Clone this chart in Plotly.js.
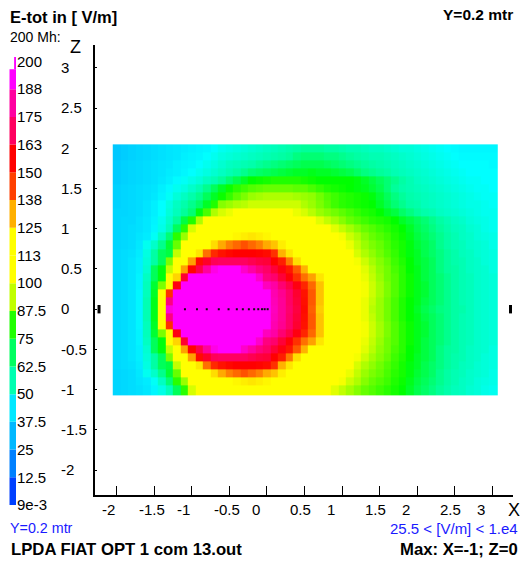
<!DOCTYPE html>
<html><head><meta charset="utf-8">
<script src="https://cdn.plot.ly/plotly-3.0.0.min.js"></script>
<style>html,body{margin:0;padding:0;background:#fff}#c{width:521px;height:561px}</style>
</head><body><div id="c"></div>
<script>
const xCells=[-2,-1.9,-1.8,-1.7,-1.6,-1.5,-1.4,-1.3,-1.2,-1.1,-1,-0.9,-0.8,-0.7,-0.6,-0.5,-0.4,-0.3,-0.2,-0.1,0,0.1,0.2,0.3,0.4,0.5,0.6,0.7,0.8,0.9,1,1.1,1.2,1.3,1.4,1.5,1.6,1.7,1.8,1.9,2,2.1,2.2,2.3,2.4,2.5,2.6,2.7,2.8,2.9,3];
const zCells=[-1,-0.9,-0.8,-0.7,-0.6,-0.5,-0.4,-0.3,-0.2,-0.1,0,0.1,0.2,0.3,0.4,0.5,0.6,0.7,0.8,0.9,1,1.1,1.2,1.3,1.4,1.5,1.6,1.7,1.8,1.9,2];
const r000=[40,41,43,48,60,73,100,195,200,200, 200,200,200,200,200,200,200,200,200,200, 200,190,184,177,171,160,144,131,124,120, 116,111,105,98,93,90,86,82,78,75, 72,69,67,65,64,62,61,59,57,56,55];
const r010=[40,41,43,48,60,73,102,180,200,200, 200,200,200,200,200,200,200,200,200,200, 200,189,184,176,170,159,145,132,125,120, 116,111,105,98,94,90,86,82,78,75, 73,70,68,66,64,62,60,59,57,56,55];
const r020=[40,41,43,48,59,72,102,150,200,200, 200,200,200,200,200,200,200,200,200,200, 200,188,183,176,169,158,145,132,125,120, 116,111,105,99,95,91,87,83,79,76, 73,71,68,66,64,62,60,59,57,56,55];
const r030=[40,41,43,47,59,71,87,106,165,200, 200,200,200,200,200,200,200,200,200,200, 190,186,178,172,165,153,143,132,124,120, 115,110,104,99,95,91,87,83,79,76, 73,71,68,66,64,62,60,59,57,56,55];
const r040=[40,41,43,47,58,68,74,104,130,169, 200,200,200,200,200,200,200,200,200,192, 180,177,170,164,150,142,136,128,122,118, 113,108,103,98,94,90,86,83,79,76, 73,70,68,66,64,62,60,59,57,56,55];
const r050=[40,41,43,46,56,68,74,94,108,136, 162,172,185,196,200,200,200,192,186,180, 176,170,165,157,145,134,125,120,117,114, 110,105,101,97,93,89,86,82,79,75, 73,70,68,65,63,62,60,58,57,56,54];
const r060=[40,41,43,46,55,62,68,87,100,112, 136,160,168,174,175,175,175,175,173,171, 170,163,155,141,129,122,119,116,113,110, 106,102,99,95,91,88,85,81,78,75, 72,70,68,65,63,61,60,58,57,55,54];
const r070=[40,41,42,45,54,62,68,70,94,105, 112,128,142,152,158,161,163,163,163,162, 160,150,134,128,123,120,117,115,112,108, 104,100,96,92,89,86,83,80,77,74, 72,69,67,65,63,61,59,58,56,55,54];
const r080=[39,40,41,44,52,57,64,71,85,100, 106,115,122,129,135,140,143,146,143,140, 135,132,127,122,119,117,115,112,108,105, 102,98,94,90,87,85,82,79,77,74, 71,69,67,64,62,60,59,57,56,55,53];
const r090=[39,40,41,43,45,51,58,66,79,90, 101,110,115,118,120,122,126,127,128,127, 126,122,120,119,117,115,113,110,106,102, 99,95,92,88,85,83,81,78,76,73, 70,68,66,64,62,60,58,57,55,54,53];
const r100=[39,40,41,42,44,48,53,59,68,79, 96,105,110,113,115,116,117,118,118,118, 118,117,116,115,114,112,110,106,101,97, 94,91,88,85,83,81,79,77,75,72, 69,67,65,63,61,59,58,56,55,53,52];
const r110=[39,40,40,42,44,47,52,57,63,70, 78,92,101,105,107,109,110,111,112,112, 112,112,111,110,109,106,102,97,94,91, 88,85,83,81,79,78,77,75,72,70, 68,66,64,62,60,58,57,55,54,53,52];
const r120=[39,39,40,41,43,46,50,55,59,63, 66,74,82,92,96,98,100,104,105,106, 106,106,105,101,98,96,93,90,88,86, 84,82,80,78,77,75,72,70,67,65, 63,61,60,58,57,56,55,54,53,52,52];
const r130=[38,39,40,41,43,46,50,54,58,61, 64,67,72,78,88,90,92,93,95,95, 95,95,95,95,95,92,90,87,84,81, 79,78,77,76,75,72,69,66,64,62, 61,59,58,57,56,55,54,53,53,52,51];
const r140=[38,39,40,41,42,44,47,51,55,58, 61,64,68,72,76,80,84,87,90,91, 92,92,92,92,91,90,89,86,83,81, 79,78,77,76,74,71,68,65,63,61, 60,59,58,57,56,55,54,53,52,51,51];
const r150=[38,39,40,41,42,43,46,49,52,54, 57,60,64,68,72,76,79,81,83,84, 85,85,85,85,84,84,82,80,78,77, 76,75,74,73,71,69,66,63,61,60, 59,58,57,56,55,54,53,52,51,51,50];
const r160=[37,38,39,40,41,42,44,46,49,51, 53,55,58,60,63,66,69,72,75,76, 77,78,78,78,78,77,76,75,75,75, 75,75,74,72,70,68,66,64,62,60, 58,57,56,55,54,53,52,51,51,50,50];
const r170=[37,38,39,40,41,42,43,45,46,48, 50,52,54,56,58,60,62,64,66,67, 68,69,70,71,72,72,73,72,72,71, 70,69,67,65,64,63,62,60,59,58, 57,56,55,54,53,52,51,50,50,50,50];
const r180=[37,38,39,40,41,42,43,44,46,47, 48,50,52,54,56,58,59,60,61,63, 64,65,66,67,68,69,69,69,68,67, 66,65,64,63,62,61,60,59,58,57, 56,55,54,53,52,51,50,50,50,50,49];
const r190=[36,37,38,39,40,41,42,43,44,46, 47,48,50,52,54,55,56,57,58,59, 60,61,62,63,65,66,66,66,65,65, 64,63,62,61,60,60,59,58,57,56, 55,54,53,52,51,50,49,49,49,49,49];
const r200=[36,37,38,39,40,41,42,43,44,45, 46,47,48,50,52,53,54,55,56,57, 58,59,60,61,62,63,63,63,62,62, 61,60,60,59,58,58,57,56,55,55, 54,53,52,51,50,49,48,48,48,48,48];
const fieldRows=[r100,r090,r080,r070,r060,r050,r040,r030,r020,r010,r000,r010,r020,r030,r040,r050,r060,r070,r080,r090,r100,r110,r120,r130,r140,r150,r160,r170,r180,r190,r200];
const xTicks=[-2,-1.5,-1,-0.5,0,0.5,1,1.5,2,2.5,3];
const xTickText=['-2','-1.5','-1','-0.5','0','0.5','1','1.5','2','2.5','3'];
const zTicks=[-2,-1.5,-1,-0.5,0,0.5,1,1.5,2,2.5,3];
const zTickText=['-2','-1.5','-1','-0.5','0','0.5','1','1.5','2','2.5','3'];
const antennaX=[-1.09,-0.93,-0.80,-0.64,-0.51,-0.40,-0.32,-0.24,-0.17,-0.115,-0.065,-0.03,0.01];
const antennaZ=[0,0,0,0,0,0,0,0,0,0,0,0,0];
const legendValues=[0,12.5,25,37.5,50,62.5,75,87.5,100,112.5,125,137.5,150,162.5,175,187.5,200];
const legendLabels=['9e-3','12.5','25','37.5','50','62.5','75','87.5','100','113','125','138','150','163','175','188','200'];
const legendColors=['#0040ff','#0080ff','#00b8ff','#00e8ff','#00ffb0','#00ff60','#20ff00','#c0ff00','#ffff00','#ffff00','#ffb000','#ff4000','#ff0000','#ff0060','#ff00a0','#ff00ff','#ff00ff'];
const legendBase=[0,12.5,25,37.5,50,62.5,75,87.5,100,112.5,125,137.5,150,162.5,175,187.5,196.5];
const legendSize=[12.5,12.5,12.5,12.5,12.5,12.5,12.5,12.5,12.5,12.5,12.5,12.5,12.5,12.5,12.5,9,5.7];
const legendX=[.5,.5,.5,.5,.5,.5,.5,.5,.5,.5,.5,.5,.5,.5,.5,.5,.86];
const legendW=[1,1,1,1,1,1,1,1,1,1,1,1,1,1,1,1,.28];
const scaleStops=[[0,'#0000ff'],[12.5,'#0040ff'],[25,'#0090ff'],[37.5,'#00d0ff'],[50,'#00ffff'],[62.5,'#00ffa0'],[75,'#00ff00'],[87.5,'#80ff00'],[100,'#ffff00'],[125,'#ffff00'],[131,'#ffcc00'],[138,'#ff9000'],[150,'#ff3000'],[163,'#ff0000'],[175,'#ff0060'],[188,'#ff00b0'],[200,'#ff00ff']];
const xEdges=xCells.map(v=>v-0.05).concat([3.075]);
const zEdges=zCells.map((v,i)=>i===0?-1.075:v-0.05).concat([2.05]);

const W=521,H=561;
const px=v=>v/W, py=v=>1-v/H;
const font='"Liberation Sans",Arial,sans-serif';
const note=(text,x,y,size,opt)=>Object.assign({text,x:px(x),y:py(y),xref:'paper',yref:'paper',xanchor:'left',yanchor:'middle',showarrow:false,font:{family:font,size,color:'#000'}},opt||{});
const xNotes=xTicks.map((v,i)=>({text:xTickText[i],x:v,y:py(509),xref:'x',yref:'paper',xanchor:'left',yanchor:'middle',xshift:-17,showarrow:false,font:{family:font,size:15,color:'#000'}}));
const blue={family:font,size:15,color:'#1a1aff'};
const traces=[
 {type:'heatmap',x:xEdges,y:zEdges,z:fieldRows,zmin:0,zmax:200,showscale:false,hoverinfo:'skip',xgap:0,ygap:0,
  colorscale:scaleStops.map(s=>[s[0]/200,s[1]])},
 {type:'scatter',mode:'markers',x:antennaX,y:antennaZ,marker:{symbol:'square',size:2,color:'#111'},hoverinfo:'skip'},
 {type:'scatter',mode:'markers',x:[-2.233,3.24],y:[0,0],cliponaxis:false,marker:{symbol:'line-ns',size:6,line:{width:3,color:'#000'},color:'#000'},hoverinfo:'skip'},
 {type:'bar',x:legendX,width:legendW,y:legendSize,base:legendBase,xaxis:'x2',yaxis:'y2',marker:{color:legendColors,line:{width:0}},hoverinfo:'skip'},
 {type:'scatter',mode:'markers',x:[0],y:[0],xaxis:'x',yaxis:'y3',marker:{opacity:0,size:1},hoverinfo:'skip'}
];
const layout={width:W,height:H,margin:{l:0,r:0,t:0,b:0,pad:0},paper_bgcolor:'#fff',plot_bgcolor:'rgba(0,0,0,0)',showlegend:false,
 font:{family:font,size:15,color:'#000'},
 xaxis:{domain:[px(94.5),px(513)],range:[-2.293,3.273],anchor:'y',showgrid:false,zeroline:false,showline:true,linecolor:'#000',linewidth:1.5,ticks:'inside',ticklen:9,tickwidth:1,tickcolor:'#000',tickvals:xTicks,showticklabels:false},
 yaxis:{domain:[py(495),py(45)],range:[-2.311,3.286],anchor:'x',showgrid:false,zeroline:false,showline:true,linecolor:'#000',linewidth:1.5,ticks:'inside',ticklen:2,tickwidth:1,tickcolor:'#000',tickvals:zTicks,showticklabels:false},
 yaxis3:{overlaying:'y',anchor:'free',position:px(60),side:'right',range:[-2.311,3.286],showgrid:false,zeroline:false,showline:false,ticks:'',tickmode:'array',tickvals:zTicks,ticktext:zTickText,tickfont:{family:font,size:15,color:'#000'}},
 xaxis2:{domain:[px(9.3),px(16)],range:[0,1],anchor:'y2',visible:false,fixedrange:true},
 yaxis2:{domain:[py(525),py(57)],range:[-9,202],anchor:'x2',side:'right',showgrid:false,zeroline:false,showline:false,ticks:'',tickmode:'array',tickvals:legendValues,ticktext:legendLabels,tickfont:{family:font,size:15,color:'#000'}},
 annotations:[
  note('<b>E-tot in [ V/m]</b>',8,17,16.5),
  note('200 Mh:',8,37,14),
  note('<b>Y=0.2 mtr</b>',515,15,15.5,{xanchor:'right'}),
  note('Z',68,47,18),
  note('X',506,510,18),
  note('Y=0.2 mtr',8,528,14.3,{font:Object.assign({},blue,{size:14.3})}),
  note('25.5 &lt; [V/m] &lt; 1.e4',520,528,15,{xanchor:'right',font:blue}),
  note('<b>LPDA FIAT OPT 1 com 13.out</b>',9,549,16.7),
  note('<b>Max: X=-1; Z=0</b>',520,549,16.7,{xanchor:'right'})
 ].concat(xNotes)
};
Plotly.newPlot('c',traces,layout,{displayModeBar:false,staticPlot:true});
</script></body></html>
